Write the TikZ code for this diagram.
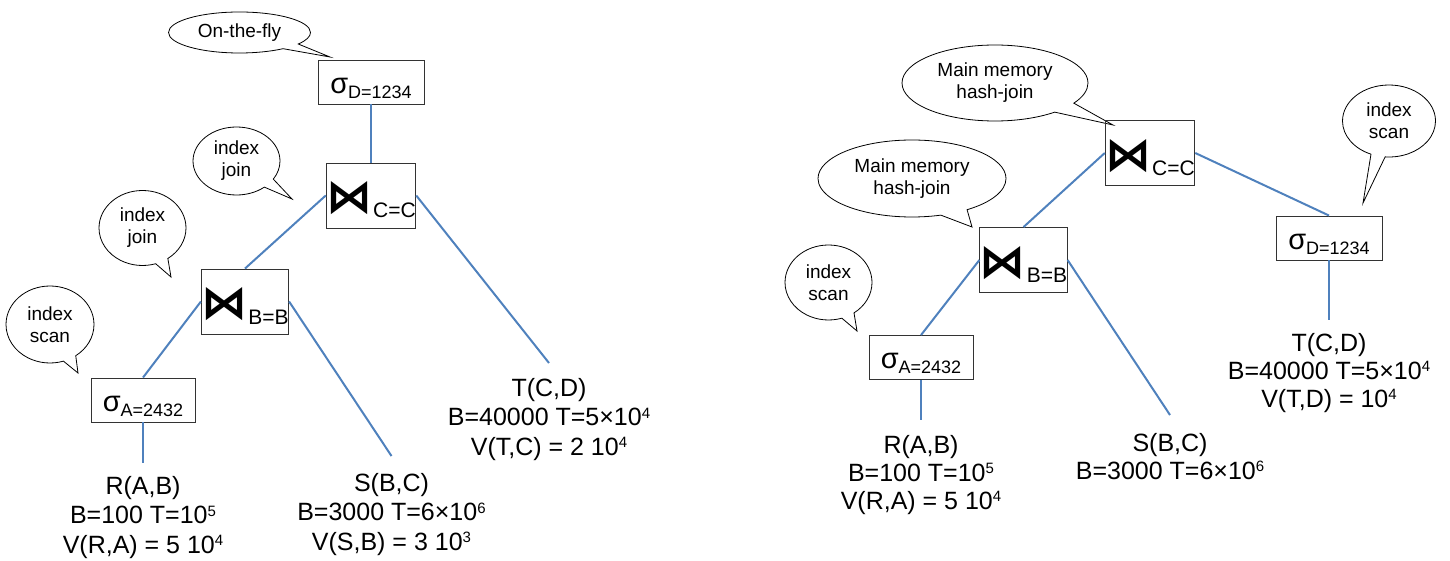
\documentclass[tikz,border=0pt]{standalone}
\usepackage{fontspec}
\setmainfont{Liberation Sans}
\newfontfamily\bowfont{DejaVu Sans Bold}
\usetikzlibrary{shapes.callouts}
\definecolor{edgeblue}{RGB}{79,129,189}
\newcommand\sups[1]{\raisebox{7.5pt}{\fontsize{15}{15}\selectfont #1}}
\newcommand\sigmalabel[1]{\fontsize{29}{29}\selectfont σ\raisebox{-5pt}{\fontsize{18}{18}\selectfont #1}}
\newcommand\joinlabel[1]{{\bowfont\fontsize{46}{46}\selectfont ⋈}\hspace{1pt}\raisebox{-5.3pt}{\fontsize{21}{21}\selectfont #1}}
\begin{document}
\begin{tikzpicture}[x=1pt,y=-1pt,
  opbox/.style={draw=black!80, line width=0.9pt, inner sep=0pt, text depth=0pt},
  selbox/.style={opbox, minimum height=44pt, text height=22.6pt},
  joinbox/.style={opbox, minimum width=85pt, minimum height=65pt, text height=34.4pt},
  edge/.style={draw=edgeblue, line width=2pt},
  bubble/.style={ellipse callout, draw=black, line width=0.8pt, align=center, inner sep=0pt,
    font=\fontsize{19}{22}\selectfont, callout pointer arc=18},
  info/.style={align=center, inner sep=0pt, anchor=north},
  infoL/.style={info, font=\fontsize{25}{29.5}\selectfont},
  infoR/.style={info, font=\fontsize{25}{28}\selectfont}]
\useasboundingbox (0,0) rectangle (1450,561);

% ---------------- left plan ----------------
\coordinate (t1) at (330,57);
\coordinate (t2) at (292,199);
\coordinate (t3) at (171,277);
\coordinate (t4) at (78,373);
\node[bubble, minimum width=142pt, minimum height=41pt, callout absolute pointer={(t1)}] (otf) at (239.5,32.5) {On-the-fly};
\node[bubble, minimum width=87pt, minimum height=68pt, callout absolute pointer={(t2)}] (ij1) at (236.5,161) {index\\join};
\node[bubble, minimum width=87pt, minimum height=75pt, callout absolute pointer={(t3)}] (ij2) at (142.5,228) {index\\join};
\node[bubble, minimum width=88pt, minimum height=77pt, callout absolute pointer={(t4)}] (is1) at (50,324.5) {index\\scan};

\node[selbox, minimum width=106pt] (sD1) at (371,82) {\sigmalabel{D=1234}};
\node[joinbox] (jC1) at (371,195.5) {\joinlabel{C=C}};
\node[joinbox] (jB1) at (245,301.5) {\joinlabel{B=B}};
\node[selbox, minimum width=104pt] (sA1) at (143,400) {\sigmalabel{A=2432}};

\node[infoL] (R1) at (143,476) {R(A,B)\\B=100 T=10\sups{5}\\V(R,A) = 5 10\sups{4}};
\node[infoL] (S1) at (391.5,473) {S(B,C)\\B=3000 T=6×10\sups{6}\\V(S,B) = 3 10\sups{3}};
\node[infoL] (T1) at (549,378) {T(C,D)\\B=40000 T=5×10\sups{4}\\V(T,C) = 2 10\sups{4}};

\draw[edge] (sD1.south) -- (jC1.north);
\draw[edge] (jC1.west) -- (jB1.north);
\draw[edge] (jC1.east) -- ([yshift=15pt]T1.north);
\draw[edge] (jB1.west) -- (sA1.north);
\draw[edge] (jB1.east) -- ([yshift=17pt]S1.north);
\draw[edge] (sA1.south) -- ([yshift=13pt]R1.north);

% ---------------- right plan ----------------
\coordinate (u1) at (1113,125);
\coordinate (u2) at (972,227);
\coordinate (u3) at (1363,203);
\coordinate (u4) at (857,331);
\node[bubble, minimum width=186pt, minimum height=76pt, callout absolute pointer={(u1)}] (mm1) at (995,83) {Main memory\\hash-join};
\node[bubble, minimum width=188pt, minimum height=77pt, callout absolute pointer={(u2)}] (mm2) at (912,178.5) {Main memory\\hash-join};
\node[bubble, minimum width=93pt, minimum height=72pt, callout absolute pointer={(u3)}] (is3) at (1389,121) {index\\scan};
\node[bubble, minimum width=87pt, minimum height=75pt, callout absolute pointer={(u4)}] (is2) at (828.5,282.5) {index\\scan};

\node[joinbox] (jC2) at (1150,153) {\joinlabel{C=C}};
\node[joinbox] (jB2) at (1023.5,260) {\joinlabel{B=B}};
\node[selbox, minimum width=106pt] (sD2) at (1329,238) {\sigmalabel{D=1234}};
\node[selbox, minimum width=104pt] (sA2) at (921,357.5) {\sigmalabel{A=2432}};

\node[infoR] (R2) at (921,435) {R(A,B)\\B=100 T=10\sups{5}\\V(R,A) = 5 10\sups{4}};
\node[infoR] (S2) at (1170,433) {S(B,C)\\B=3000 T=6×10\sups{6}};
\node[infoR] (T2) at (1329,333) {T(C,D)\\B=40000 T=5×10\sups{4}\\V(T,D) = 10\sups{4}};

\draw[edge] (jC2.west) -- (jB2.north);
\draw[edge] (jC2.east) -- (sD2.north);
\draw[edge] (jB2.west) -- (sA2.north);
\draw[edge] (jB2.east) -- ([yshift=18pt]S2.north);
\draw[edge] (sA2.south) -- ([yshift=15pt]R2.north);
\draw[edge] (sD2.south) -- ([yshift=13pt]T2.north);
\end{tikzpicture}
\end{document}
